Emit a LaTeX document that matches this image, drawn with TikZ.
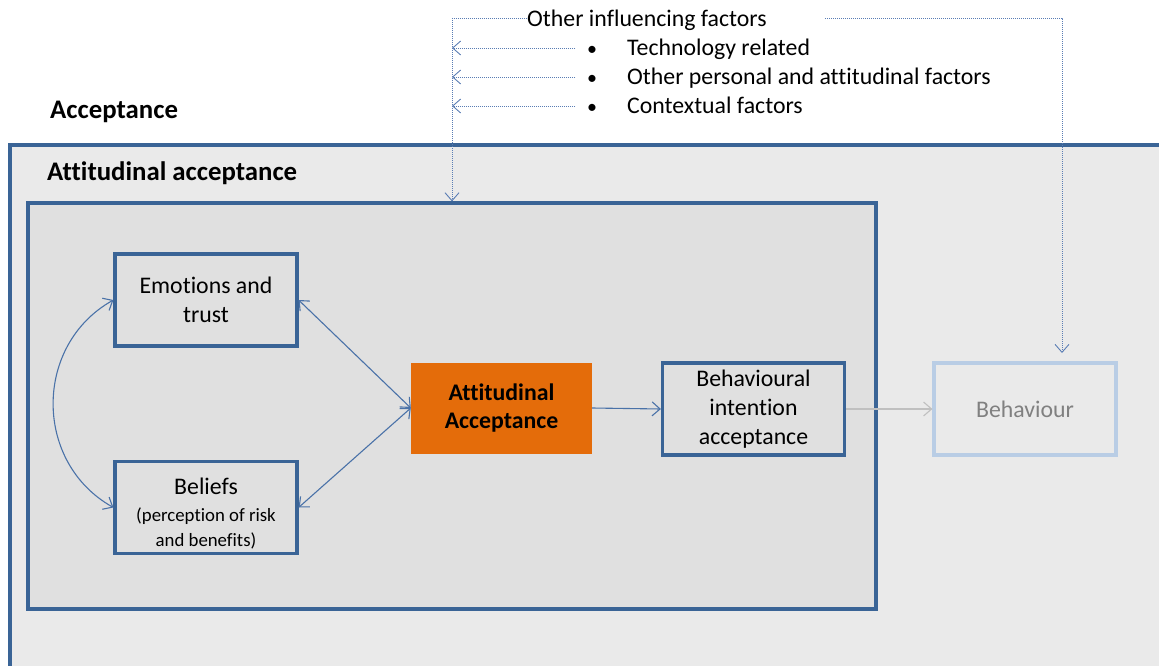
\documentclass[tikz,border=0pt]{standalone}
\usepackage{fontspec}
\setmainfont{Carlito}[Ligatures=NoCommon]
\usetikzlibrary{arrows.meta}
\definecolor{bblue}{RGB}{58,100,150}
\definecolor{lblue}{RGB}{74,114,168}
\definecolor{dotblue}{RGB}{90,125,180}
\definecolor{orng}{RGB}{228,108,10}
\definecolor{outerfill}{RGB}{234,234,234}
\definecolor{innerfill}{RGB}{224,224,224}
\definecolor{palebl}{RGB}{185,205,229}
\definecolor{ghost}{RGB}{128,128,128}
\definecolor{ghostline}{RGB}{192,192,192}
\tikzset{
  main/.style={font=\fontsize{23.8}{29}\selectfont},
  ttl/.style={font=\fontsize{26.8}{32}\selectfont\bfseries, inner sep=0pt, anchor=base west},
  stepbox/.style={draw=bblue, line width=3.2pt, minimum width=182pt, minimum height=92pt, inner sep=0pt, align=center, main},
  container/.style={draw=bblue, line width=3.2pt, inner sep=0pt},
  conn/.style={draw=lblue, line width=1.1pt, -{Straight Barb[length=8pt,width=14pt]}},
  biconn/.style={draw=lblue, line width=1.1pt, {Straight Barb[length=8pt,width=14pt]}-{Straight Barb[length=8pt,width=14pt]}},
  dotln/.style={draw=dotblue, line width=0.9pt, dash pattern=on 1pt off 1pt},
  dotarrow/.style={dotln, -{Straight Barb[length=8pt,width=14pt]}},
  item/.style={main, inner sep=0pt, anchor=base west}
}
\begin{document}
\begin{tikzpicture}[x=1pt,y=-1pt]
\useasboundingbox (0,0) rectangle (1159,666);
\clip (0,0) rectangle (1159,666);
\fill[white] (0,0) rectangle (1159,666);
% containers
\node[container, fill=outerfill, minimum width=1170pt, minimum height=550pt] (Outer) at (595,420) {};
\node[container, fill=innerfill, minimum width=848pt, minimum height=406pt] (Inner) at (452,406) {};
% titles
\node[ttl] (TAcc) at (50,119) {Acceptance};
\node[ttl] (TAtt) at (47,180) {Attitudinal acceptance};
% boxes
\node[stepbox] (Emo) at (206,300) {Emotions and\\trust};
\node[stepbox] (Bel) at (206,507.5) {};
\node[align=center, inner sep=0pt, main] (BelT) at (206,514) {Beliefs\\[-2pt]{\fontsize{18.8}{22}\selectfont (perception of risk}\\[-4pt]{\fontsize{18.8}{22}\selectfont and benefits)}};
\node[fill=orng, minimum width=181pt, minimum height=91pt, inner sep=0pt, align=center, font=\fontsize{23.8}{28}\selectfont\bfseries] (Att) at (501.5,408) {Attitudinal\\Acceptance};
\node[stepbox] (Bint) at (753.5,409) {Behavioural\\intention\\acceptance};
\node[stepbox, draw=palebl, text=ghost] (Beh) at (1025,409) {Behaviour};
% connectors
\draw[biconn] (Emo.east) -- (Att.west);
\draw[biconn] (Bel.east) -- (Att.west);
\draw[biconn] (Emo.west) .. controls +(-80,45) and +(-80,-45) .. (Bel.west);
\draw[conn] (Att.east) -- (Bint.west);
\draw[conn, draw=ghostline] (Bint.east) -- (Beh.west);
% other factors
\node[item] (Oth) at (527,27) {Other influencing factors};
\node[item] (I1) at (587,56) {\makebox[40pt][l]{\fontsize{20}{20}\selectfont•}Technology related};
\node[item] (I2) at (587,85) {\makebox[40pt][l]{\fontsize{20}{20}\selectfont•}Other personal and attitudinal factors};
\node[item] (I3) at (587,114) {\makebox[40pt][l]{\fontsize{20}{20}\selectfont•}Contextual factors};
\coordinate (c1) at (452,18);
\coordinate (r0) at (825,18);
\coordinate (r1) at (1062,18);
\coordinate (r2) at (1062,353);
\draw[dotln] (Oth.base west |- c1) -- (c1);
\draw[dotarrow] (c1) -- (c1 |- Inner.north);
\draw[dotarrow] (r0) -- (r1) -- (r2);
\draw[dotarrow] ([xshift=-12pt,yshift=8pt]I1.base west) -- ([yshift=8pt]I1.base west -| c1);
\draw[dotarrow] ([xshift=-12pt,yshift=8pt]I2.base west) -- ([yshift=8pt]I2.base west -| c1);
\draw[dotarrow] ([xshift=-12pt,yshift=8pt]I3.base west) -- ([yshift=8pt]I3.base west -| c1);
\end{tikzpicture}
\end{document}
